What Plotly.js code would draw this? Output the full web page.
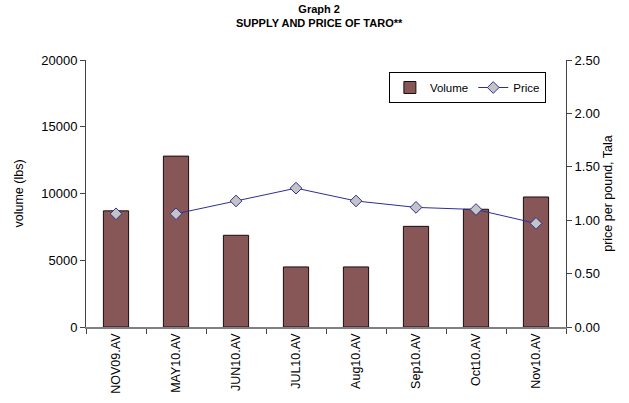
<!DOCTYPE html>
<html>
<head>
<meta charset="utf-8">
<script src="https://cdn.plot.ly/plotly-3.0.1.min.js"></script>
<style>html,body{margin:0;padding:0;background:#fff;}#chart{width:629px;height:403px;}</style>
</head>
<body>
<div id="chart"></div>
<script>
const categories = ["NOV09.AV", "MAY10.AV", "JUN10.AV", "JUL10.AV", "Aug10.AV", "Sep10.AV", "Oct10.AV", "Nov10.AV"];
const volume = [8700, 12800, 6870, 4500, 4500, 7540, 8820, 9740];
const price = [1.06, 1.06, 1.18, 1.30, 1.18, 1.12, 1.10, 0.97];
const leftTicks = [0, 5000, 10000, 15000, 20000];
const rightTicks = [0, 0.5, 1.0, 1.5, 2.0, 2.5];
const titleLines = ["Graph 2", "SUPPLY AND PRICE OF TARO**"];

const font = "Liberation Sans, Arial, sans-serif";
const lineColor = "#2e2e9a";
const markerStyle = {symbol: "diamond", size: 9, color: "#c4c4c4", line: {color: "#2e2e9a", width: 1}};

const traces = [
  {
    type: "bar", name: "Volume", x: categories, y: volume, width: 0.42,
    marker: {color: "#875757", line: {color: "#1a0d0d", width: 1}},
    yaxis: "y"
  },
  {
    type: "scatter", mode: "markers", name: "Price", showlegend: false,
    x: categories.slice(0, 1), y: price.slice(0, 1),
    marker: markerStyle, yaxis: "y2"
  },
  {
    type: "scatter", mode: "lines+markers", name: "Price",
    x: categories.slice(1), y: price.slice(1),
    line: {color: lineColor, width: 1}, marker: markerStyle, yaxis: "y2"
  }
];

const layout = {
  width: 629, height: 403,
  margin: {l: 86, r: 63, t: 60, b: 76, pad: 0},
  paper_bgcolor: "#fff", plot_bgcolor: "#fff",
  font: {family: font, color: "#000", size: 12},
  showlegend: true,
  annotations: [{
    text: titleLines.map(t => "<b>" + t + "</b>").join("<br>"),
    xref: "paper", yref: "paper", x: 0.487, y: 1.163, xanchor: "center", yanchor: "middle",
    showarrow: false, font: {family: font, size: 11, color: "#000"}
  }],
  legend: {
    orientation: "h", x: 0.631, y: 0.955, xanchor: "left", yanchor: "top",
    bordercolor: "#000", borderwidth: 1, bgcolor: "#fff",
    font: {family: font, size: 11.5, color: "#000"},
    itemwidth: 30, traceorder: "normal"
  },
  xaxis: {
    type: "category", categoryorder: "array", categoryarray: categories,
    showline: true, linecolor: "#808080", linewidth: 1.5,
    ticks: "outside", tickson: "boundaries", ticklen: 5, tickcolor: "#444",
    tickangle: -90, tickfont: {family: font, size: 12.5, color: "#000"},
    showgrid: false, zeroline: false, fixedrange: true
  },
  yaxis: {
    range: [0, 20000], tickvals: leftTicks, ticktext: leftTicks.map(String),
    showline: true, linecolor: "#444", linewidth: 1,
    ticks: "outside", ticklen: 5, tickcolor: "#444",
    tickfont: {family: font, size: 13, color: "#000"},
    showgrid: false, zeroline: false,
    title: {text: "volume (lbs)", font: {family: font, size: 12.5, color: "#000"}, standoff: 14}
  },
  yaxis2: {
    overlaying: "y", side: "right", range: [0, 2.5],
    tickvals: rightTicks, ticktext: rightTicks.map(v => v.toFixed(2)),
    showline: true, linecolor: "#444", linewidth: 1,
    ticks: "outside", ticklen: 5, tickcolor: "#444",
    tickfont: {family: font, size: 13, color: "#000"},
    showgrid: false, zeroline: false,
    title: {text: "price per pound, Tala", font: {family: font, size: 12.5, color: "#000"}, standoff: 4}
  }
};

Plotly.newPlot("chart", traces, layout, {displayModeBar: false, staticPlot: true});
</script>
</body>
</html>
